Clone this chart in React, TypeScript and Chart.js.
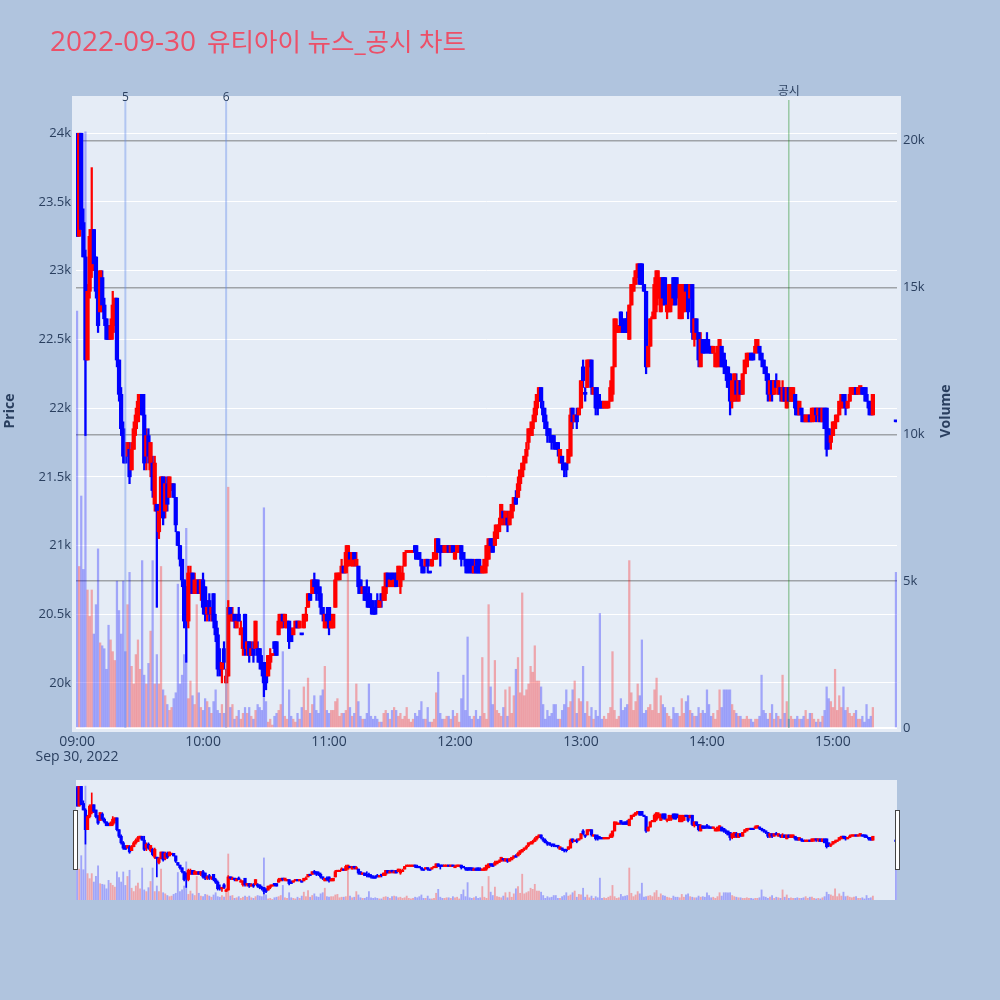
import React, { useEffect, useRef } from "react";
import { Chart, registerables } from "chart.js";

Chart.register(...registerables);

// ---- data: one-minute candles from 09:00 (index = minutes after 09:00), last one is the 15:30 closing auction ----
const OPEN = [
  23950,23250,24000,23350,23100,22350,22850,23000,23300,23100,
  22850,22700,22950,22750,22650,22600,22500,22550,22700,22800,
  22350,22100,21850,21700,21650,21700,21550,21700,21850,21900,
  22050,22100,21950,21650,21800,21550,21600,21300,21300,21100,
  21250,21500,21250,21450,21350,21400,21450,21350,21100,21000,
  20900,20750,20700,20450,20650,20800,20650,20650,20750,20650,
  20750,20700,20500,20600,20500,20650,20450,20350,20150,20100,
  20250,20000,20050,20550,20450,20500,20400,20500,20350,20250,
  20500,20250,20300,20200,20250,20250,20250,20250,20150,20150,
  20100,20050,20150,20200,20300,20300,20350,20400,20500,20450,
  20400,20450,20350,20350,20400,20450,20400,20350,20400,20450,
  20550,20650,20650,20750,20750,20700,20650,20550,20400,20500,
  20550,20400,20400,20550,20750,20750,20800,20850,20800,20850,
  20950,20850,20950,20850,20850,20750,20650,20700,20650,20650,
  20600,20550,20550,20600,20550,20650,20600,20650,20800,20700,
  20800,20700,20800,20750,20700,20750,20850,20950,20950,20950,
  20950,21000,20950,20950,20900,20850,20850,20900,20800,20850,
  20900,20900,21050,21000,21000,20950,20950,21000,20950,21000,
  20900,20950,20950,21000,20950,20900,20900,20900,20900,20800,
  20850,20900,20850,20800,20800,20850,20900,21050,21050,21000,
  21050,21100,21150,21250,21150,21200,21150,21200,21300,21350,
  21350,21450,21500,21600,21650,21750,21800,21850,21900,22000,
  22050,22150,22000,21950,21850,21850,21800,21800,21750,21750,
  21600,21650,21600,21600,21600,21650,22000,21900,21950,21950,
  22000,22300,22100,22150,22300,22350,22100,22150,22100,22050,
  22050,22000,22000,22000,22050,22100,22300,22550,22550,22700,
  22600,22650,22650,22500,22750,22850,22900,22950,23050,23050,
  22900,22850,22300,22450,22650,22650,22750,22800,22700,22950,
  22950,22700,22700,22750,22950,22950,22900,22650,22650,22700,
  22900,22900,22800,22900,22500,22650,22550,22300,22500,22450,
  22500,22450,22450,22400,22300,22300,22350,22450,22400,22300,
  22300,22250,22050,22050,22200,22050,22200,22100,22250,22300,
  22350,22400,22400,22400,22450,22450,22400,22350,22300,22250,
  22100,22200,22100,22200,22100,22150,22050,22150,22000,22150,
  22050,22050,22100,22050,21950,22000,21950,21900,21900,21950,
  21900,21950,22000,21950,22000,21900,22000,22000,21850,21750,
  21800,21850,21900,21950,22000,22100,22050,22000,22050,22100,
  22100,22150,22100,22150,22150,22150,22100,22050,22050,21950,
  21900,
];
const HIGH = [
  24000,24000,24000,23450,23150,22900,23300,23750,23300,23100,
  22900,23000,23000,22800,22650,22600,22650,22850,22800,22800,
  22350,22150,21900,21750,21750,21750,21750,21900,22000,22100,
  22100,22100,22100,21850,21850,21750,21650,21650,21300,21300,
  21500,21500,21500,21500,21500,21450,21450,21350,21100,21000,
  20900,20750,20700,20850,20850,20800,20800,20750,20750,20750,
  20800,20700,20600,20650,20550,20650,20500,20400,20250,20150,
  20300,20100,20600,20550,20550,20500,20500,20550,20450,20400,
  20500,20300,20300,20300,20300,20450,20300,20250,20200,20150,
  20100,20200,20250,20200,20300,20300,20500,20500,20500,20500,
  20450,20450,20400,20400,20450,20450,20450,20350,20500,20550,
  20650,20650,20750,20800,20750,20750,20700,20550,20500,20550,
  20550,20500,20500,20800,20800,20800,20900,20850,21000,21000,
  20950,20950,20950,20950,20850,20750,20700,20700,20750,20700,
  20650,20600,20600,20650,20600,20650,20700,20800,20800,20800,
  20800,20800,20800,20850,20850,20850,20950,20950,20950,20950,
  20950,21000,21000,20950,20900,20850,20900,20900,20800,20900,
  20950,21050,21050,21000,21000,21000,21000,21000,21000,21000,
  21000,21000,21000,21000,20950,20900,20900,20900,20900,20900,
  20900,20900,20900,20850,20900,21000,21050,21050,21050,21150,
  21150,21200,21300,21250,21250,21250,21250,21300,21350,21400,
  21500,21550,21600,21650,21750,21850,21900,21950,22050,22100,
  22150,22150,22050,22000,21900,21850,21800,21800,21750,21750,
  21700,21650,21600,21600,21700,22000,22000,21950,22000,22000,
  22200,22350,22150,22350,22350,22350,22150,22150,22150,22100,
  22050,22050,22050,22050,22200,22300,22650,22650,22600,22700,
  22650,22650,22700,22750,22900,22950,23000,23050,23050,23050,
  22900,22850,22450,22650,22700,22950,23000,23000,22950,22950,
  22950,22750,22900,22900,22950,22950,22950,22900,22900,22900,
  22900,22900,22900,22900,22650,22650,22550,22550,22500,22500,
  22550,22500,22450,22450,22400,22450,22500,22450,22400,22350,
  22300,22250,22200,22250,22250,22200,22200,22250,22350,22400,
  22400,22400,22400,22500,22500,22450,22400,22350,22300,22250,
  22200,22200,22200,22250,22200,22150,22200,22150,22150,22150,
  22150,22150,22100,22050,22050,22000,21950,21950,21950,21950,
  22000,22000,22000,22000,22000,22000,22000,22000,21850,21800,
  21900,21950,21950,22050,22100,22100,22100,22050,22150,22150,
  22150,22150,22150,22150,22150,22150,22150,22050,22050,22100,
  21900,
];
const LOW = [
  23250,23250,23300,23100,21800,22350,22800,22950,23000,22800,
  22550,22700,22700,22600,22500,22500,22500,22500,22600,22300,
  22050,21800,21600,21600,21650,21450,21550,21700,21800,21900,
  22000,21950,21550,21550,21600,21500,21350,21250,20550,21050,
  21250,21150,21200,21250,21350,21400,21350,21100,21000,20850,
  20700,20400,20150,20400,20650,20650,20650,20650,20650,20600,
  20500,20450,20450,20450,20450,20400,20300,20050,20050,20000,
  20100,20000,20050,20450,20450,20400,20400,20450,20350,20200,
  20200,20200,20150,20200,20150,20250,20150,20100,20050,19900,
  19950,20050,20100,20200,20200,20200,20350,20400,20400,20400,
  20400,20250,20300,20350,20400,20400,20400,20350,20400,20450,
  20550,20600,20650,20650,20600,20600,20500,20450,20400,20400,
  20350,20400,20400,20550,20750,20750,20800,20800,20800,20850,
  20900,20850,20850,20850,20650,20650,20650,20600,20550,20550,
  20500,20500,20500,20550,20550,20550,20600,20600,20700,20700,
  20700,20700,20700,20750,20650,20750,20850,20950,20950,20950,
  20950,20900,20900,20900,20800,20800,20850,20800,20800,20850,
  20900,20900,20950,20850,20950,20950,20950,20950,20950,20950,
  20900,20950,20950,20850,20900,20800,20800,20800,20800,20800,
  20800,20800,20800,20800,20800,20800,20900,20950,20950,21000,
  21050,21100,21150,21150,21150,21100,21150,21200,21250,21300,
  21350,21400,21500,21550,21600,21700,21800,21800,21900,21950,
  22050,22000,21900,21850,21750,21750,21700,21700,21700,21650,
  21600,21550,21500,21500,21600,21650,21850,21900,21850,21950,
  22000,22150,22050,22150,22300,22100,22100,21950,21950,22000,
  22000,22000,22000,22000,22050,22050,22300,22550,22550,22550,
  22550,22550,22550,22500,22750,22850,22900,22950,22900,22900,
  22850,22250,22300,22450,22650,22650,22700,22800,22700,22750,
  22750,22650,22700,22700,22750,22750,22800,22650,22650,22700,
  22850,22650,22800,22500,22450,22500,22300,22300,22400,22400,
  22400,22400,22400,22400,22300,22300,22300,22300,22250,22200,
  22150,21950,22000,22050,22050,22050,22100,22100,22250,22300,
  22350,22350,22350,22400,22400,22350,22300,22250,22200,22050,
  22050,22050,22100,22150,22100,22050,22050,22050,22000,22050,
  22050,22050,21950,21950,21950,21900,21900,21900,21900,21900,
  21900,21900,21900,21900,21900,21900,21850,21650,21700,21700,
  21800,21850,21900,21950,22000,22000,21950,22000,22050,22100,
  22100,22100,22100,22100,22100,22050,22050,21950,21950,21950,
  21900,
];
const CLOSE = [
  23250,24000,23300,23100,22350,22850,23250,23300,23050,22850,
  22600,23000,22750,22650,22500,22500,22600,22750,22800,22350,
  22100,21850,21650,21600,21750,21500,21700,21850,21950,22050,
  22100,21950,21600,21800,21650,21750,21400,21600,21250,21250,
  21500,21200,21450,21300,21500,21450,21350,21150,21000,20900,
  20750,20450,20500,20800,20800,20650,20750,20750,20650,20750,
  20550,20500,20550,20500,20550,20450,20350,20100,20100,20150,
  20150,20050,20550,20500,20500,20450,20450,20450,20400,20400,
  20250,20300,20200,20250,20200,20450,20200,20150,20100,20000,
  20000,20200,20200,20200,20250,20200,20450,20500,20450,20500,
  20450,20300,20300,20400,20450,20400,20450,20350,20500,20500,
  20650,20600,20750,20700,20650,20650,20550,20500,20500,20450,
  20400,20450,20500,20750,20800,20800,20850,20800,20950,21000,
  20900,20950,20900,20900,20700,20650,20700,20600,20600,20550,
  20550,20500,20500,20550,20600,20600,20700,20800,20700,20750,
  20750,20750,20700,20850,20800,20800,20950,20950,20950,20950,
  20950,20950,20900,20900,20850,20800,20900,20850,20800,20900,
  20950,21050,20950,20950,20950,21000,21000,20950,21000,20950,
  20950,21000,21000,20900,20900,20850,20800,20850,20800,20850,
  20800,20800,20800,20850,20900,21000,21050,21000,20950,21100,
  21150,21150,21300,21200,21250,21150,21250,21300,21350,21300,
  21450,21550,21600,21650,21700,21850,21850,21900,22000,22100,
  22150,22050,21950,21850,21800,21800,21750,21750,21700,21700,
  21700,21600,21550,21550,21700,21950,21900,21950,21900,22000,
  22200,22200,22100,22350,22350,22150,22150,22000,22000,22000,
  22000,22050,22050,22050,22150,22300,22650,22600,22600,22600,
  22550,22550,22550,22750,22900,22900,23000,23050,22900,22900,
  22850,22300,22450,22650,22650,22900,23000,22950,22900,22800,
  22750,22750,22900,22850,22800,22750,22850,22900,22900,22900,
  22850,22700,22900,22550,22650,22550,22350,22500,22400,22400,
  22450,22400,22400,22450,22400,22450,22500,22300,22300,22250,
  22150,22050,22200,22250,22100,22200,22100,22250,22350,22400,
  22400,22350,22350,22450,22500,22400,22350,22300,22250,22100,
  22200,22100,22200,22150,22200,22100,22150,22050,22150,22050,
  22150,22150,22000,21950,22050,21950,21900,21950,21950,21900,
  22000,22000,21950,22000,21900,22000,21850,21700,21750,21800,
  21900,21900,21950,22050,22100,22050,22000,22050,22100,22150,
  22150,22100,22150,22150,22100,22100,22050,22000,21950,22100,
  21900,
];
const VOLUME = [
  14200,5500,7900,5400,20300,4700,3800,4700,3200,4200,
  6100,2900,2800,2700,2000,3500,3000,2600,2300,5000,
  4000,3200,5000,2600,4200,5300,2100,1500,2500,3000,
  2000,5700,1800,1500,2200,3300,5700,1500,2500,1500,
  5500,1300,1100,800,600,700,1000,1200,4900,1500,
  1800,2500,6800,1000,1600,1100,800,4200,1200,700,
  600,1000,900,700,500,900,1300,600,500,800,
  500,1600,8200,700,800,300,400,600,300,500,
  700,500,700,400,300,600,800,700,600,7500,
  900,200,300,100,400,500,600,800,2600,400,
  300,1300,400,300,200,500,300,700,1400,600,
  1700,500,800,1100,600,500,1100,1300,2100,600,
  500,600,600,900,1000,400,500,500,600,5900,
  700,400,500,1500,900,400,300,300,500,1500,
  400,300,400,300,200,200,500,600,500,300,
  600,700,600,400,500,300,400,700,300,200,
  300,500,400,600,900,300,300,700,200,200,
  300,1200,1900,500,300,300,400,400,300,600,
  400,500,200,1000,1800,600,3100,400,300,400,
  600,300,400,2400,500,300,4200,1400,800,2300,
  600,500,400,700,1300,400,1400,500,1100,2000,
  2400,1200,4600,1100,1300,1500,2100,1900,2800,1600,
  1600,1400,800,300,600,400,500,800,800,300,
  300,600,800,1300,700,900,1300,1600,500,1000,
  900,2100,500,900,400,700,300,600,400,3900,
  300,400,300,500,700,2600,600,300,400,1000,
  600,700,800,5700,1200,600,900,1500,1100,3000,
  500,600,700,800,600,1300,1700,500,1100,800,
  700,500,400,300,700,500,500,400,1000,500,
  900,1100,600,500,400,400,700,500,600,500,
  1300,800,400,500,300,600,1300,700,1300,1300,
  1300,1300,800,600,500,400,400,300,300,400,
  300,300,200,300,300,400,1800,600,500,300,
  500,800,300,500,400,300,1800,500,900,300,
  400,300,300,400,300,300,400,600,300,500,
  500,300,200,300,200,400,600,1400,1000,900,
  700,2000,600,1100,700,1400,600,700,500,400,
  500,600,300,300,400,200,800,300,400,700,
  5300,
];
const CONTINUOUS_SESSION_MINUTES = 380; // 09:00 .. 15:19
const CLOSING_AUCTION_MINUTE = 390; // 15:30

const TIME_TICKS = [0, 60, 120, 180, 240, 300, 360];
const TIME_LABELS = ["09:00", "10:00", "11:00", "12:00", "13:00", "14:00", "15:00"];
const DATE_LABEL = "Sep 30, 2022";
const PRICE_TICKS = [20000, 20500, 21000, 21500, 22000, 22500, 23000, 23500, 24000];
const PRICE_LABELS = ["20k", "20.5k", "21k", "21.5k", "22k", "22.5k", "23k", "23.5k", "24k"];
const VOLUME_TICKS = [0, 5000, 10000, 15000, 20000];
const VOLUME_LABELS = ["0", "5k", "10k", "15k", "20k"];

const EVENT_MINUTES = [23, 71, 339];
const EVENT_LABELS = ["5", "6", "공시"];

const TITLE_DATE = "2022-09-30";
const TITLE_REST = "유티아이 뉴스_공시 차트";

// ---- styling ----
const PAGE_BG = "#b0c4de";
const PLOT_BG = "#e5ecf6";
const TEXT = "#2a3f5f";
const UP = "#ff0000";
const DOWN = "#0000ff";
const UP_VOL = "rgba(255,0,0,0.3)";
const DOWN_VOL = "rgba(0,0,255,0.3)";
const FONT = "'Open Sans', 'Noto Sans CJK KR', sans-serif";
const X_MIN = -0.5;
const X_MAX = 390.5;
const P_MIN = 19672;
const P_MAX = 24242;
const V_MIN = 0;
const V_MAX = 21386;
const MAIN_H = 790;

const MINUTES = OPEN.map((_, i) => (i < CONTINUOUS_SESSION_MINUTES ? i : CLOSING_AUCTION_MINUTE));
const IS_UP = CLOSE.map((c, i) =>
  c > OPEN[i] || (c === OPEN[i] && c >= (i > 0 ? CLOSE[i - 1] : c))
);

function makeDatasets(mini: boolean) {
  return [
    {
      type: "bar" as const,
      label: "body",
      data: MINUTES.map((m, i) => ({ x: m, y: [OPEN[i], CLOSE[i]] })),
      backgroundColor: IS_UP.map((u) => (u ? UP : DOWN)),
      barThickness: mini ? 2.6 : 3.6,
      minBarLength: mini ? 1.5 : 2,
      grouped: false,
      borderWidth: 0,
      yAxisID: "y",
      order: 0,
    },
    {
      type: "bar" as const,
      label: "wick",
      data: MINUTES.map((m, i) => ({ x: m, y: [LOW[i], HIGH[i]] })),
      backgroundColor: IS_UP.map((u) => (u ? UP : DOWN)),
      barThickness: mini ? 1 : 1.6,
      minBarLength: 1,
      grouped: false,
      borderWidth: 0,
      yAxisID: "y",
      order: 1,
    },
    {
      type: "bar" as const,
      label: "volume",
      data: MINUTES.map((m, i) => ({ x: m, y: VOLUME[i] })),
      backgroundColor: IS_UP.map((u) => (u ? UP_VOL : DOWN_VOL)),
      barThickness: mini ? 1.2 : 1.6,
      grouped: false,
      borderWidth: 0,
      yAxisID: "y2",
      order: 2,
    },
  ];
}

const frameAndTextPlugin = {
  id: "frameAndText",
  beforeDraw(chart: any) {
    const ctx = chart.ctx;
    ctx.save();
    ctx.fillStyle = PLOT_BG;
    ctx.fillRect(72, 96, 829, 636);
    ctx.restore();
  },
  afterDatasetsDraw(chart: any) {
    const ctx = chart.ctx;
    const xs = chart.scales.x;
    const { top, bottom } = chart.chartArea;
    ctx.save();
    EVENT_MINUTES.forEach((m, i) => {
      const px = xs.getPixelForValue(m);
      const isNotice = EVENT_LABELS[i] === "공시";
      ctx.beginPath();
      ctx.strokeStyle = isNotice ? "rgba(0,128,0,0.5)" : "rgba(100,140,235,0.4)";
      ctx.lineWidth = isNotice ? 1 : 2;
      ctx.moveTo(px, top);
      ctx.lineTo(px, bottom);
      ctx.stroke();
      ctx.fillStyle = TEXT;
      ctx.textAlign = "center";
      ctx.textBaseline = "alphabetic";
      ctx.font = `12px ${FONT}`;
      ctx.fillText(EVENT_LABELS[i], px, isNotice ? 95 : 100.5);
    });
    ctx.restore();
  },
  afterDraw(chart: any) {
    const ctx = chart.ctx;
    ctx.save();
    ctx.fillStyle = "rgb(236,80,104)";
    ctx.textBaseline = "alphabetic";
    ctx.textAlign = "left";
    ctx.font = `28px ${FONT}`;
    ctx.fillText(TITLE_DATE, 50, 50.7);
    ctx.font = `25.5px ${FONT}`;
    ctx.fillText(TITLE_REST, 207, 50.7);

    ctx.fillStyle = TEXT;
    ctx.font = `bold 14px ${FONT}`;
    ctx.textAlign = "center";
    ctx.textBaseline = "middle";
    ctx.translate(10, 411);
    ctx.rotate(-Math.PI / 2);
    ctx.fillText("Price", 0, 0);
    ctx.restore();
    ctx.save();
    ctx.fillStyle = TEXT;
    ctx.font = `bold 14px ${FONT}`;
    ctx.textAlign = "center";
    ctx.textBaseline = "middle";
    ctx.translate(946, 411);
    ctx.rotate(-Math.PI / 2);
    ctx.fillText("Volume", 0, 0);
    ctx.restore();
  },
};

export default function App() {
  const mainRef = useRef<HTMLCanvasElement | null>(null);
  const miniRef = useRef<HTMLCanvasElement | null>(null);

  useEffect(() => {
    Chart.defaults.font.family = FONT;
    const main = new Chart(mainRef.current as HTMLCanvasElement, {
      type: "bar",
      data: { datasets: makeDatasets(false) as any },
      plugins: [frameAndTextPlugin],
      options: {
        animation: false,
        responsive: false,
        devicePixelRatio: 1,
        layout: { padding: { top: 100, left: 0, right: 0, bottom: 0 } },
        plugins: { legend: { display: false }, tooltip: { enabled: false } },
        scales: {
          x: {
            type: "linear",
            min: X_MIN,
            max: X_MAX,
            offset: false,
            grid: { display: false, drawTicks: false },
            border: { display: false },
            afterBuildTicks: (s: any) => {
              s.ticks = TIME_TICKS.map((v) => ({ value: v }));
            },
            afterFit: (s: any) => {
              s.height = MAIN_H - 728;
            },
            ticks: {
              autoSkip: false,
              maxRotation: 0,
              padding: 6,
              color: TEXT,
              font: { size: 14, lineHeight: 1.1 },
              callback: (v: any) => {
                const i = TIME_TICKS.indexOf(Number(v));
                if (i < 0) return "";
                return i === 0 ? [TIME_LABELS[i], DATE_LABEL] : TIME_LABELS[i];
              },
            },
          },
          y: {
            type: "linear",
            position: "left",
            min: P_MIN,
            max: P_MAX,
            grid: { color: "#ffffff", lineWidth: 1, drawTicks: false },
            border: { display: false },
            afterBuildTicks: (s: any) => {
              s.ticks = PRICE_TICKS.map((v) => ({ value: v }));
            },
            afterFit: (s: any) => {
              s.width = 76;
            },
            ticks: {
              padding: 5,
              color: TEXT,
              font: { size: 13 },
              callback: (v: any) => PRICE_LABELS[PRICE_TICKS.indexOf(Number(v))] ?? "",
            },
          },
          y2: {
            type: "linear",
            position: "right",
            min: V_MIN,
            max: V_MAX,
            grid: {
              color: (c: any) => (c.tick && c.tick.value === 0 ? "#ffffff" : "rgba(90,90,90,0.5)"),
              lineWidth: (c: any) => (c.tick && c.tick.value === 0 ? 2 : 1.5),
              drawTicks: false,
            },
            border: { display: false },
            afterBuildTicks: (s: any) => {
              s.ticks = VOLUME_TICKS.map((v) => ({ value: v }));
            },
            afterFit: (s: any) => {
              s.width = 1000 - 897;
            },
            ticks: {
              padding: 6,
              color: TEXT,
              font: { size: 13 },
              callback: (v: any) => VOLUME_LABELS[VOLUME_TICKS.indexOf(Number(v))] ?? "",
            },
          },
        },
      } as any,
    });

    const mini = new Chart(miniRef.current as HTMLCanvasElement, {
      type: "bar",
      data: { datasets: makeDatasets(true) as any },
      options: {
        animation: false,
        responsive: false,
        devicePixelRatio: 1,
        layout: { padding: 0 },
        plugins: { legend: { display: false }, tooltip: { enabled: false } },
        scales: {
          x: { type: "linear", min: X_MIN, max: X_MAX, offset: false, display: false },
          y: { type: "linear", min: P_MIN, max: P_MAX, display: false },
          y2: { type: "linear", min: V_MIN, max: V_MAX, display: false },
        },
      } as any,
    });

    return () => {
      main.destroy();
      mini.destroy();
    };
  }, []);

  const handle = (left: number): React.CSSProperties => ({
    position: "absolute",
    left,
    top: 810,
    width: 5,
    height: 60,
    boxSizing: "border-box",
    background: "#ffffff",
    border: "1px solid #444444",
  });

  return (
    <div
      style={{
        position: "absolute",
        left: 0,
        top: 0,
        width: 1000,
        height: 1000,
        background: PAGE_BG,
        overflow: "hidden",
      }}
    >
      <canvas
        ref={mainRef}
        width={1000}
        height={MAIN_H}
        style={{ position: "absolute", left: 0, top: 0, width: 1000, height: MAIN_H }}
      />
      <div style={{ position: "absolute", left: 76, top: 780, width: 821, height: 120, background: PLOT_BG }} />
      <canvas
        ref={miniRef}
        width={821}
        height={120}
        style={{ position: "absolute", left: 76, top: 780, width: 821, height: 120 }}
      />
      <div style={handle(73)} />
      <div style={handle(895)} />
    </div>
  );
}
